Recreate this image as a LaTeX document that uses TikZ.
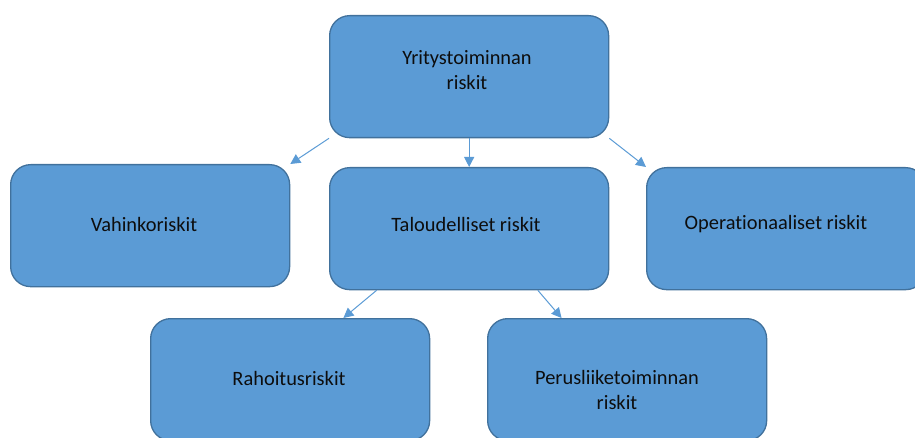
\documentclass[tikz,border=0pt]{standalone}
\usepackage{fontspec}
\setmainfont{Carlito}[Ligatures=NoCommon]
\usetikzlibrary{arrows.meta,calc}
\definecolor{boxfill}{HTML}{5B9BD5}
\definecolor{boxline}{HTML}{41719C}
\definecolor{txt}{HTML}{0D0D0D}
\begin{document}
\begin{tikzpicture}[x=1pt,y=-1pt,
  riskbox/.style={draw=boxline,fill=boxfill,line width=1.3pt,rounded corners=20pt,
    minimum width=279pt,minimum height=122pt,inner sep=0pt,anchor=north west},
  lbl/.style={font=\fontsize{20.4}{25}\selectfont,text=txt,align=center,inner sep=0pt},
  link/.style={draw=boxfill,line width=1pt,-{Triangle[length=10pt,width=10pt]}}]
\useasboundingbox (0,0) rectangle (915,438);
\node[riskbox] (top) at (329,15) {};
\node[riskbox] (vah) at (10,164) {};
\node[riskbox] (tal) at (329,167) {};
\node[riskbox] (oper) at (646,167) {};
\node[riskbox] (rah) at (150,318) {};
\node[riskbox] (per) at (487,318) {};
\node[lbl] (ttop) at (467,70) {Yritystoiminnan\\riskit};
\node[lbl] (tvah) at (144,224) {Vahinkoriskit};
\node[lbl] (ttal) at (466,224) {Taloudelliset riskit};
\node[lbl] (toper) at (776,224) {Operationaaliset riskit};
\node[lbl] (trah) at (289,378) {Rahoitusriskit};
\node[lbl] (tper) at (617,390) {Perusliiketoiminnan\\riskit};
\draw[link] (top.south west) -- (vah.north east);
\draw[link] (top.south) -- (tal.north);
\draw[link] (top.south east) -- (oper.north west);
\draw[link] ($(tal.south west)!0.17!(tal.south east)$) -- ($(rah.north west)!0.69!(rah.north east)$);
\draw[link] ($(tal.south west)!0.745!(tal.south east)$) -- ($(per.north west)!0.266!(per.north east)$);
\end{tikzpicture}
\end{document}
